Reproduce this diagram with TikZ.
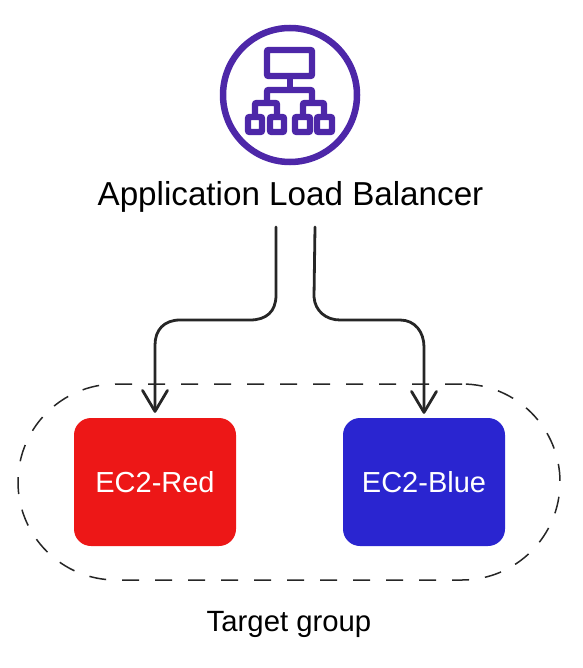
\documentclass[tikz,border=0pt]{standalone}
\usepackage{fontspec}
\setmainfont{Liberation Sans}
\usetikzlibrary{arrows.meta,calc}
\definecolor{albpurple}{HTML}{4D27A8}
\definecolor{ecred}{HTML}{ED1717}
\definecolor{ecblue}{HTML}{2A25D0}
\definecolor{inkline}{HTML}{262626}
\tikzset{
  iconline/.style={draw=albpurple,line width=6.4pt,line join=round,rounded corners=1pt},
  ecbox/.style={minimum width=162pt,minimum height=128pt,rounded corners=17pt,inner sep=0pt,text=white,font=\fontsize{29}{32}\selectfont},
  caption/.style={text=black,inner sep=0pt},
  link/.style={draw=inkline,line width=2.8pt,line cap=round,line join=round,
    -{Straight Barb[length=21pt,width=25pt,line width=2.8pt,round]}},
  groupline/.style={draw=inkline,line width=1.5pt,dash pattern=on 17pt off 16pt,rounded corners=98pt}
}
\begin{document}
\begin{tikzpicture}[x=1pt,y=-1pt]
\useasboundingbox (0,0) rectangle (582,668);
% target group
\node[groupline,minimum width=542pt,minimum height=196pt,inner sep=0pt] (group) at (289,482) {};
\node[caption,font=\fontsize{29.3}{32}\selectfont] (grouplabel) at (289,624) {Target group};
% icon
\node[draw=albpurple,line width=6.5pt,circle,minimum size=134pt,inner sep=0pt] (icon) at (290,95) {};
\draw[iconline] (267,50) rectangle (312,76);
\draw[iconline] (290,78) -- (290,90);
\draw[iconline] (267,103) -- (267,90) -- (312,90) -- (312,103);
\draw[iconline] (255,115) -- (255,103) -- (277,103) -- (277,115);
\draw[iconline] (303,115) -- (303,103) -- (324,103) -- (324,115);
\draw[iconline] (248,117) rectangle (262,132);
\draw[iconline] (270,117) rectangle (284,132);
\draw[iconline] (295,117) rectangle (310,132);
\draw[iconline] (317,117) rectangle (332,132);
% label
\node[caption,font=\fontsize{33.2}{36}\selectfont] (alb) at (290.5,197) {Application Load Balancer};
% boxes
\node[ecbox,fill=ecred] (red) at (155,482) {EC2-Red};
\node[ecbox,fill=ecblue] (blue) at (424,482) {EC2-Blue};
% connectors
\coordinate (startL) at (276,227);
\coordinate (startR) at (315,227);
\draw[link] (startL) -- (276,295) .. controls (276,312) and (266,320) .. (250,320)
  -- (180,320) .. controls (164,320) and (155,330) .. (155,345) -- ($(red.north)+(0,-5)$);
\draw[link] (startR) -- (314,297) .. controls (315,311) and (326,320) .. (340,320)
  -- (400,320) .. controls (415,320) and (424,332) .. (424,347) -- ($(blue.north)+(0,-4)$);
\end{tikzpicture}
\end{document}
